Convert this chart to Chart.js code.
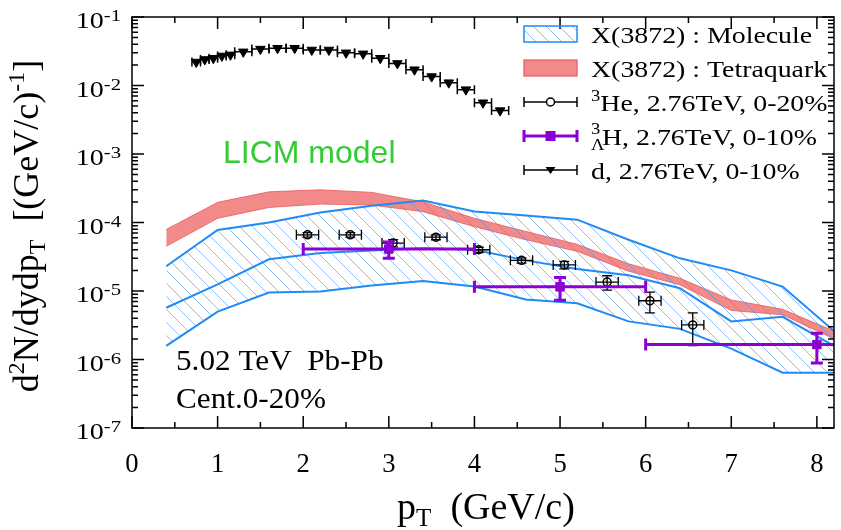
<!DOCTYPE html>
<html>
<head>
<meta charset="utf-8">
<script src="https://cdn.jsdelivr.net/npm/chart.js@4.4.1/dist/chart.umd.min.js"></script>
<style>
    html, body { margin: 0; padding: 0; background: #fff; }
</style>
</head>
<body>
<canvas id="chart" width="841" height="530"></canvas>
<script>
// LICM model bands on a common pT grid
const bandPt = [0.4, 1.0, 1.6, 2.2, 2.8, 3.4, 4.0, 4.6, 5.2, 5.8, 6.4, 7.0, 7.6, 8.2];
const molUpper = [2.3e-5, 7.8e-5, 1.0e-4, 1.4e-4, 1.75e-4, 2.1e-4, 1.45e-4, 1.27e-4, 1.1e-4, 5.6e-5, 3.0e-5, 2.0e-5, 1.16e-5, 2.6e-6];
const molCentral = [5.7e-6, 1.25e-5, 2.9e-5, 3.6e-5, 3.9e-5, 4.2e-5, 4.0e-5, 2.8e-5, 2.1e-5, 1.7e-5, 1.1e-5, 3.6e-6, 4.2e-6, 1.58e-6];
const molLower = [1.58e-6, 5.0e-6, 9.5e-6, 9.8e-6, 1.2e-5, 1.4e-5, 1.16e-5, 7.5e-6, 6.6e-6, 3.6e-6, 2.8e-6, 1.44e-6, 6.4e-7, 6.4e-7];
const tetraUpper = [7.9e-5, 1.97e-4, 2.8e-4, 3.0e-4, 2.75e-4, 2.0e-4, 1.15e-4, 7.4e-5, 4.8e-5, 2.5e-5, 1.53e-5, 7.4e-6, 5.4e-6, 2.6e-6];
const tetraLower = [4.5e-5, 1.15e-4, 1.66e-4, 1.86e-4, 1.8e-4, 1.44e-4, 8.7e-5, 5.6e-5, 3.8e-5, 1.95e-5, 1.23e-5, 5.2e-6, 4.5e-6, 2.0e-6];

// d, 2.76 TeV, 0-10%
const dPt = [0.75, 0.85, 0.95, 1.05, 1.15, 1.3, 1.5, 1.7, 1.9, 2.1, 2.3, 2.5, 2.7, 2.9, 3.1, 3.3, 3.5, 3.7, 3.9, 4.1, 4.3];
const dPtHalf = [0.05, 0.05, 0.05, 0.05, 0.05, 0.1, 0.1, 0.1, 0.1, 0.1, 0.1, 0.1, 0.1, 0.1, 0.1, 0.1, 0.1, 0.1, 0.1, 0.1, 0.1];
const dYield = [0.022, 0.024, 0.025, 0.027, 0.028, 0.031, 0.034, 0.035, 0.035, 0.033, 0.033, 0.030, 0.029, 0.025, 0.021, 0.017, 0.0135, 0.011, 0.0087, 0.0056, 0.0043];

// 3He, 2.76 TeV, 0-20%
const hePt = [2.05, 2.55, 3.05, 3.55, 4.05, 4.55, 5.05, 5.55, 6.05, 6.55];
const hePtHalf = [0.13, 0.13, 0.13, 0.13, 0.13, 0.13, 0.13, 0.13, 0.13, 0.13];
const heYield = [6.6e-5, 6.6e-5, 5.0e-5, 6.1e-5, 4.0e-5, 2.8e-5, 2.4e-5, 1.35e-5, 7.2e-6, 3.2e-6];
const heErr = [5e-6, 5e-6, 6e-6, 5e-6, 3.5e-6, 2.5e-6, 3e-6, 3.2e-6, 2.4e-6, 1.6e-6];

// hypertriton, 2.76 TeV, 0-10%
const hyPt = [3.0, 5.0, 8.0];
const hyPtLow = [2.0, 4.0, 6.0];
const hyPtHigh = [4.0, 6.0, 10.0];
const hyYield = [4.1e-5, 1.15e-5, 1.65e-6];
const hyErr = [1.1e-5, 4.2e-6, 7.6e-7];

const xTicks = [0, 1, 2, 3, 4, 5, 6, 7, 8];
const yTickExp = [-1, -2, -3, -4, -5, -6, -7];

const SERIF = '"Liberation Serif", "Times New Roman", serif';
const BLUE = '#1f8bf5';
const RED_FILL = 'rgba(240, 118, 118, 0.85)';
const RED_LINE = 'rgba(236, 100, 100, 0.9)';
const PURPLE = '#8c00d4';

const pts = (xs, ys) => xs.map((x, i) => ({ x, y: ys[i] }));

function makeHatch(color) {
    const c = document.createElement('canvas');
    c.width = 13; c.height = 13;
    const g = c.getContext('2d');
    g.strokeStyle = color;
    g.lineWidth = 1;
    g.beginPath();
    g.moveTo(-1, -1); g.lineTo(14, 14);
    g.moveTo(-1, 12); g.lineTo(1, 14);
    g.moveTo(12, -1); g.lineTo(14, 1);
    g.stroke();
    return g.createPattern(c, 'repeat');
}
const hatch = makeHatch('rgba(70, 145, 240, 0.6)');

// text made of runs (superscripts / subscripts), with optional horizontal stretch
function drawRuns(ctx, runs, x, y, align, sx) {
    sx = sx || 1;
    let total = 0;
    runs.forEach(r => {
        ctx.font = r.size + 'px ' + (r.family || SERIF);
        r.w = ctx.measureText(r.t).width * sx;
        total += r.w;
    });
    let cx = align === 'center' ? x - total / 2 : align === 'right' ? x - total : x;
    ctx.textAlign = 'left';
    ctx.textBaseline = 'alphabetic';
    runs.forEach(r => {
        ctx.font = r.size + 'px ' + (r.family || SERIF);
        ctx.save();
        ctx.translate(cx, y + (r.dy || 0));
        ctx.scale(sx, 1);
        ctx.fillText(r.t, 0, 0);
        ctx.restore();
        cx += r.w;
    });
}

const errorBars = {
    id: 'errorBars',
    beforeDatasetDraw(chart, args) {
        const ds = chart.data.datasets[args.index];
        if (!ds.err) return;
        const { ctx, chartArea: a, scales: { x, y } } = chart;
        const e = ds.err;
        ctx.save();
        ctx.beginPath();
        ctx.rect(a.left, a.top, a.right - a.left, a.bottom - a.top);
        ctx.clip();
        ctx.strokeStyle = e.color;
        ctx.lineWidth = e.width;
        ds.data.forEach((p, i) => {
            const px = x.getPixelForValue(p.x), py = y.getPixelForValue(p.y);
            const x0 = x.getPixelForValue(e.xLow[i]), x1 = x.getPixelForValue(e.xHigh[i]);
            ctx.beginPath();
            ctx.moveTo(x0, py); ctx.lineTo(x1, py);
            ctx.moveTo(x0, py - e.cap); ctx.lineTo(x0, py + e.cap);
            ctx.moveTo(x1, py - e.cap); ctx.lineTo(x1, py + e.cap);
            if (e.yErr) {
                const y0 = y.getPixelForValue(p.y + e.yErr[i]);
                const y1 = y.getPixelForValue(p.y - e.yErr[i]);
                ctx.moveTo(px, y0); ctx.lineTo(px, y1);
                ctx.moveTo(px - e.cap, y0); ctx.lineTo(px + e.cap, y0);
                ctx.moveTo(px - e.cap, y1); ctx.lineTo(px + e.cap, y1);
            }
            ctx.stroke();
        });
        ctx.restore();
    }
};

const frame = {
    id: 'frame',
    afterDraw(chart) {
        const { ctx, chartArea: a, scales: { x, y } } = chart;
        ctx.save();
        ctx.strokeStyle = '#000';
        ctx.lineWidth = 1.5;
        ctx.strokeRect(a.left, a.top, a.right - a.left, a.bottom - a.top);
        ctx.beginPath();
        for (let k = 0; k <= 16; k++) {
            const px = x.getPixelForValue(k / 2);
            const len = k % 2 === 0 ? 12 : 6;
            ctx.moveTo(px, a.bottom); ctx.lineTo(px, a.bottom - len);
            ctx.moveTo(px, a.top); ctx.lineTo(px, a.top + len);
        }
        yTickExp.forEach(ex => {
            for (let m = 1; m <= 9; m++) {
                if (ex === -1 && m > 1) continue;
                const py = y.getPixelForValue(m * Math.pow(10, ex));
                const len = m === 1 ? 12 : 6;
                ctx.moveTo(a.left, py); ctx.lineTo(a.left + len, py);
                ctx.moveTo(a.right, py); ctx.lineTo(a.right - len, py);
            }
        });
        ctx.stroke();

        ctx.fillStyle = '#000';
        // x tick labels
        xTicks.forEach(v => {
            drawRuns(ctx, [{ t: String(v), size: 28 }], x.getPixelForValue(v), 472, 'center', 0.95);
        });
        // y tick labels
        yTickExp.forEach(ex => {
            const py = y.getPixelForValue(Math.pow(10, ex));
            drawRuns(ctx, [
                { t: '10', size: 23 },
                { t: String(ex), size: 17, dy: -7 }
            ], 121, py + 11, 'right', 1.22);
        });
        // axis titles
        drawRuns(ctx, [
            { t: 'p', size: 38 },
            { t: 'T', size: 25, dy: 7 },
            { t: '  (GeV/c)', size: 38 }
        ], 486, 519, 'center');
        ctx.save();
        ctx.translate(38, 226);
        ctx.rotate(-Math.PI / 2);
        drawRuns(ctx, [
            { t: 'd', size: 36 },
            { t: '2', size: 24, dy: -14 },
            { t: 'N/dydp', size: 36 },
            { t: 'T', size: 24, dy: 7 },
            { t: '  [(GeV/c)', size: 36 },
            { t: '-1', size: 24, dy: -14 },
            { t: ']', size: 36 }
        ], 0, 0, 'center');
        ctx.restore();

        // annotations
        ctx.fillStyle = '#33cc33';
        drawRuns(ctx, [{ t: 'LICM model', size: 32, family: '"Liberation Sans", Arial, sans-serif' }], 223, 163, 'left');
        ctx.fillStyle = '#000';
        drawRuns(ctx, [{ t: '5.02 TeV  Pb-Pb', size: 30 }], 176, 370, 'left', 1.04);
        drawRuns(ctx, [{ t: 'Cent.0-20%', size: 30 }], 176, 408, 'left', 1.04);

        // legend
        const lx0 = 524, lx1 = 577, tx = 591, sx = 1.16;
        const rows = [34, 68, 102, 136, 170];
        ctx.lineWidth = 1.5;
        ctx.fillStyle = hatch;
        ctx.fillRect(lx0, rows[0] - 8, lx1 - lx0, 16);
        ctx.strokeStyle = BLUE;
        ctx.strokeRect(lx0, rows[0] - 8, lx1 - lx0, 16);
        ctx.fillStyle = RED_FILL;
        ctx.fillRect(lx0, rows[1] - 8, lx1 - lx0, 16);
        ctx.strokeStyle = RED_LINE;
        ctx.strokeRect(lx0, rows[1] - 8, lx1 - lx0, 16);

        const bar = (cy, color, w, cap) => {
            ctx.strokeStyle = color;
            ctx.lineWidth = w;
            ctx.beginPath();
            ctx.moveTo(lx0, cy); ctx.lineTo(lx1, cy);
            ctx.moveTo(lx0, cy - cap); ctx.lineTo(lx0, cy + cap);
            ctx.moveTo(lx1, cy - cap); ctx.lineTo(lx1, cy + cap);
            ctx.stroke();
        };
        const mid = (lx0 + lx1) / 2;
        bar(rows[2], '#000', 1.5, 5);
        ctx.fillStyle = '#fff';
        ctx.beginPath(); ctx.arc(mid, rows[2], 4, 0, Math.PI * 2); ctx.fill(); ctx.stroke();
        bar(rows[3], PURPLE, 3, 6);
        ctx.fillStyle = PURPLE;
        ctx.fillRect(mid - 5, rows[3] - 5, 10, 10);
        bar(rows[4], '#000', 1.5, 5);
        ctx.fillStyle = '#000';
        ctx.beginPath();
        ctx.moveTo(mid - 5, rows[4] - 3); ctx.lineTo(mid + 5, rows[4] - 3); ctx.lineTo(mid, rows[4] + 4);
        ctx.closePath(); ctx.fill();

        ctx.fillStyle = '#000';
        drawRuns(ctx, [{ t: 'X(3872) : Molecule', size: 24 }], tx, rows[0] + 9, 'left', sx);
        drawRuns(ctx, [{ t: 'X(3872) : Tetraquark', size: 24 }], tx, rows[1] + 9, 'left', sx);
        drawRuns(ctx, [{ t: '3', size: 16, dy: -10 }, { t: 'He, 2.76TeV, 0-20%', size: 24 }], tx, rows[2] + 9, 'left', sx);
        drawRuns(ctx, [{ t: '3', size: 16, dy: -11 }], tx, rows[3] + 9, 'left', sx);
        drawRuns(ctx, [{ t: 'Λ', size: 16, dy: 5 }], tx, rows[3] + 9, 'left', sx);
        drawRuns(ctx, [{ t: 'H, 2.76TeV, 0-10%', size: 24 }], tx + 11, rows[3] + 9, 'left', sx);
        drawRuns(ctx, [{ t: 'd, 2.76TeV, 0-10%', size: 24 }], tx, rows[4] + 9, 'left', sx);
        ctx.restore();
    }
};

new Chart(document.getElementById('chart'), {
    type: 'scatter',
    data: {
        datasets: [
            {
                type: 'line', label: 'tetra upper', data: pts(bandPt, tetraUpper),
                borderColor: RED_LINE, borderWidth: 1, backgroundColor: RED_FILL,
                fill: '+1', pointRadius: 0, tension: 0, order: 10,
            },
            {
                type: 'line', label: 'tetra lower', data: pts(bandPt, tetraLower),
                borderColor: RED_LINE, borderWidth: 1, fill: false, pointRadius: 0, tension: 0, order: 9,
            },
            {
                type: 'line', label: 'mol upper', data: pts(bandPt, molUpper),
                borderColor: BLUE, borderWidth: 2, backgroundColor: hatch,
                fill: 4, pointRadius: 0, tension: 0, order: 8,
            },
            {
                type: 'line', label: 'mol central', data: pts(bandPt, molCentral),
                borderColor: BLUE, borderWidth: 2, fill: false, pointRadius: 0, tension: 0, order: 7,
            },
            {
                type: 'line', label: 'mol lower', data: pts(bandPt, molLower),
                borderColor: BLUE, borderWidth: 2, fill: false, pointRadius: 0, tension: 0, order: 6,
            },
            {
                label: 'd', data: pts(dPt, dYield),
                pointStyle: 'triangle', rotation: 180, radius: 5.5,
                backgroundColor: '#000', borderColor: '#000', borderWidth: 1, order: 3,
                err: {
                    xLow: dPt.map((v, i) => v - dPtHalf[i]), xHigh: dPt.map((v, i) => v + dPtHalf[i]),
                    color: '#000', width: 1.5, cap: 4.5,
                },
            },
            {
                label: '3He', data: pts(hePt, heYield),
                pointStyle: 'circle', radius: 4,
                backgroundColor: 'rgba(0,0,0,0)', borderColor: '#000', borderWidth: 1.5, order: 2,
                err: {
                    xLow: hePt.map((v, i) => v - hePtHalf[i]), xHigh: hePt.map((v, i) => v + hePtHalf[i]),
                    yErr: heErr, color: '#000', width: 1.3, cap: 5,
                },
            },
            {
                label: 'hypertriton', data: pts(hyPt, hyYield),
                pointStyle: 'rect', radius: 6,
                backgroundColor: PURPLE, borderColor: PURPLE, borderWidth: 1, order: 1,
                err: { xLow: hyPtLow, xHigh: hyPtHigh, yErr: hyErr, color: PURPLE, width: 3, cap: 6 },
            },
        ]
    },
    options: {
        responsive: false,
        animation: false,
        devicePixelRatio: 1,
        layout: { padding: { left: 132, right: 1, top: 17, bottom: 102 } },
        scales: {
            x: { type: 'linear', min: 0, max: 8.2, display: false },
            y: { type: 'logarithmic', min: 1e-7, max: 1e-1, display: false },
        },
        plugins: {
            legend: { display: false },
            tooltip: { enabled: false },
        },
    },
    plugins: [errorBars, frame],
});
</script>
</body>
</html>
